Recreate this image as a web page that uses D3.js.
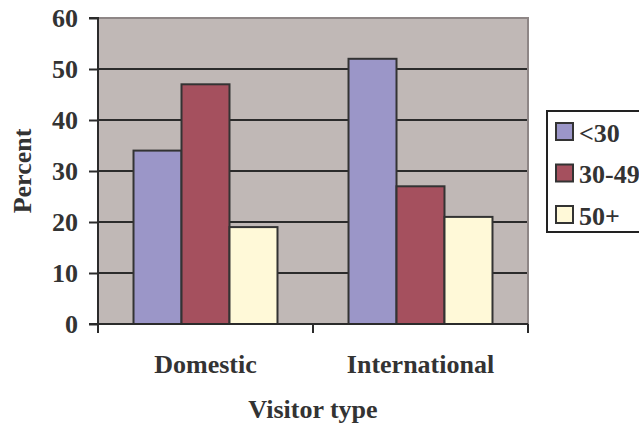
<!DOCTYPE html>
<html><head><meta charset="utf-8">
<script src="https://cdn.jsdelivr.net/npm/d3@7"></script>
</head><body style="margin:0;padding:0;background:#fff">
<script>
const categories = ["Domestic", "International"];
const series = ["<30", "30-49", "50+"];
const valuesUnder30 = [34, 52];
const values30to49 = [47, 27];
const values50plus = [19, 21];
const yTicks = [0, 10, 20, 30, 40, 50, 60];
const colors = ["#9B96C8", "#A5505E", "#FFF9D8"];
const seriesValues = [valuesUnder30, values30to49, values50plus];

const W = 639, H = 426;
const pLeft = 98, pRight = 528, pTop = 18, pBottom = 324;

function styleText(sel) {
  return sel.style("font-family", '"Liberation Serif"').style("font-weight", "bold")
    .style("font-size", "26px").style("fill", "#333");
}

const svg = d3.select("body").append("svg").attr("width", W).attr("height", H).style("display", "block");

const x0 = d3.scaleBand().domain(categories).range([pLeft, pRight]).padding(0);
const x1 = d3.scaleBand().domain(series).range([0, x0.bandwidth()]).paddingInner(0).paddingOuter(0.74);
const y = d3.scaleLinear().domain([0, 60]).range([pBottom, pTop]);

// plot background
svg.append("rect").attr("x", pLeft).attr("y", pTop).attr("width", pRight - pLeft).attr("height", pBottom - pTop)
  .attr("fill", "#C0B8B6").attr("stroke", "#8E8686").attr("stroke-width", 2);

// gridlines
svg.append("g").selectAll("line").data(yTicks.filter(d => d > 0 && d < 60)).join("line")
  .attr("x1", pLeft).attr("x2", pRight - 1).attr("y1", d => y(d)).attr("y2", d => y(d))
  .attr("stroke", "#2b2b2b").attr("stroke-width", 2);

// bars
const g = svg.append("g");
categories.forEach((c, ci) => {
  series.forEach((s, si) => {
    const v = seriesValues[si][ci];
    g.append("rect")
      .attr("x", x0(c) + x1(s)).attr("y", y(v))
      .attr("width", x1.bandwidth()).attr("height", y(0) - y(v))
      .attr("fill", colors[si]).attr("stroke", "#333").attr("stroke-width", 2);
  });
});

// y axis
const yAxis = d3.axisLeft(y).tickValues(yTicks).tickSize(9).tickPadding(11).tickFormat(d3.format("d"));
const ya = svg.append("g").attr("transform", `translate(${pLeft},0)`).call(yAxis);
ya.select(".domain").attr("stroke", "#2b2b2b").attr("stroke-width", 2).attr("d", `M-9,${pTop}H0V${pBottom}`);
ya.selectAll(".tick line").attr("stroke", "#2b2b2b").attr("stroke-width", 2);
styleText(ya.selectAll(".tick text"));

// x axis
const xAxis = d3.axisBottom(x0).tickSize(0).tickPadding(0).tickFormat(() => "");
const xa = svg.append("g").attr("transform", `translate(0,${pBottom})`).call(xAxis);
xa.select(".domain").attr("stroke", "#2b2b2b").attr("stroke-width", 2).attr("d", `M${pLeft - 9},0H${pRight}`);
xa.selectAll(".tick").remove();
const bounds = [pLeft].concat(categories.map(c => x0(c) + x0.bandwidth()));
xa.selectAll("line.sep").data(bounds).join("line").attr("class", "sep")
  .attr("x1", d => d).attr("x2", d => d).attr("y1", 0).attr("y2", 9)
  .attr("stroke", "#2b2b2b").attr("stroke-width", 2);
styleText(svg.append("g").selectAll("text").data(categories).join("text")
  .attr("x", d => x0(d) + x0.bandwidth() / 2).attr("y", 373)
  .attr("text-anchor", "middle").text(d => d));

// axis titles
styleText(svg.append("text").attr("transform", "translate(31,171) rotate(-90)").attr("text-anchor", "middle").text("Percent"));
styleText(svg.append("text").attr("x", (pLeft + pRight) / 2).attr("y", 418).attr("text-anchor", "middle").text("Visitor type"));

// legend
const lg = svg.append("g");
lg.append("rect").attr("x", 547).attr("y", 111).attr("width", 130).attr("height", 121)
  .attr("fill", "#fff").attr("stroke", "#222").attr("stroke-width", 2);
series.forEach((s, i) => {
  lg.append("rect").attr("x", 556).attr("y", 123 + i * 41.5).attr("width", 17).attr("height", 17)
    .attr("fill", colors[i]).attr("stroke", "#333").attr("stroke-width", 2);
  styleText(lg.append("text").attr("x", 579).attr("y", 141.5 + i * 41.5).text(s));
});
</script>
</body></html>
